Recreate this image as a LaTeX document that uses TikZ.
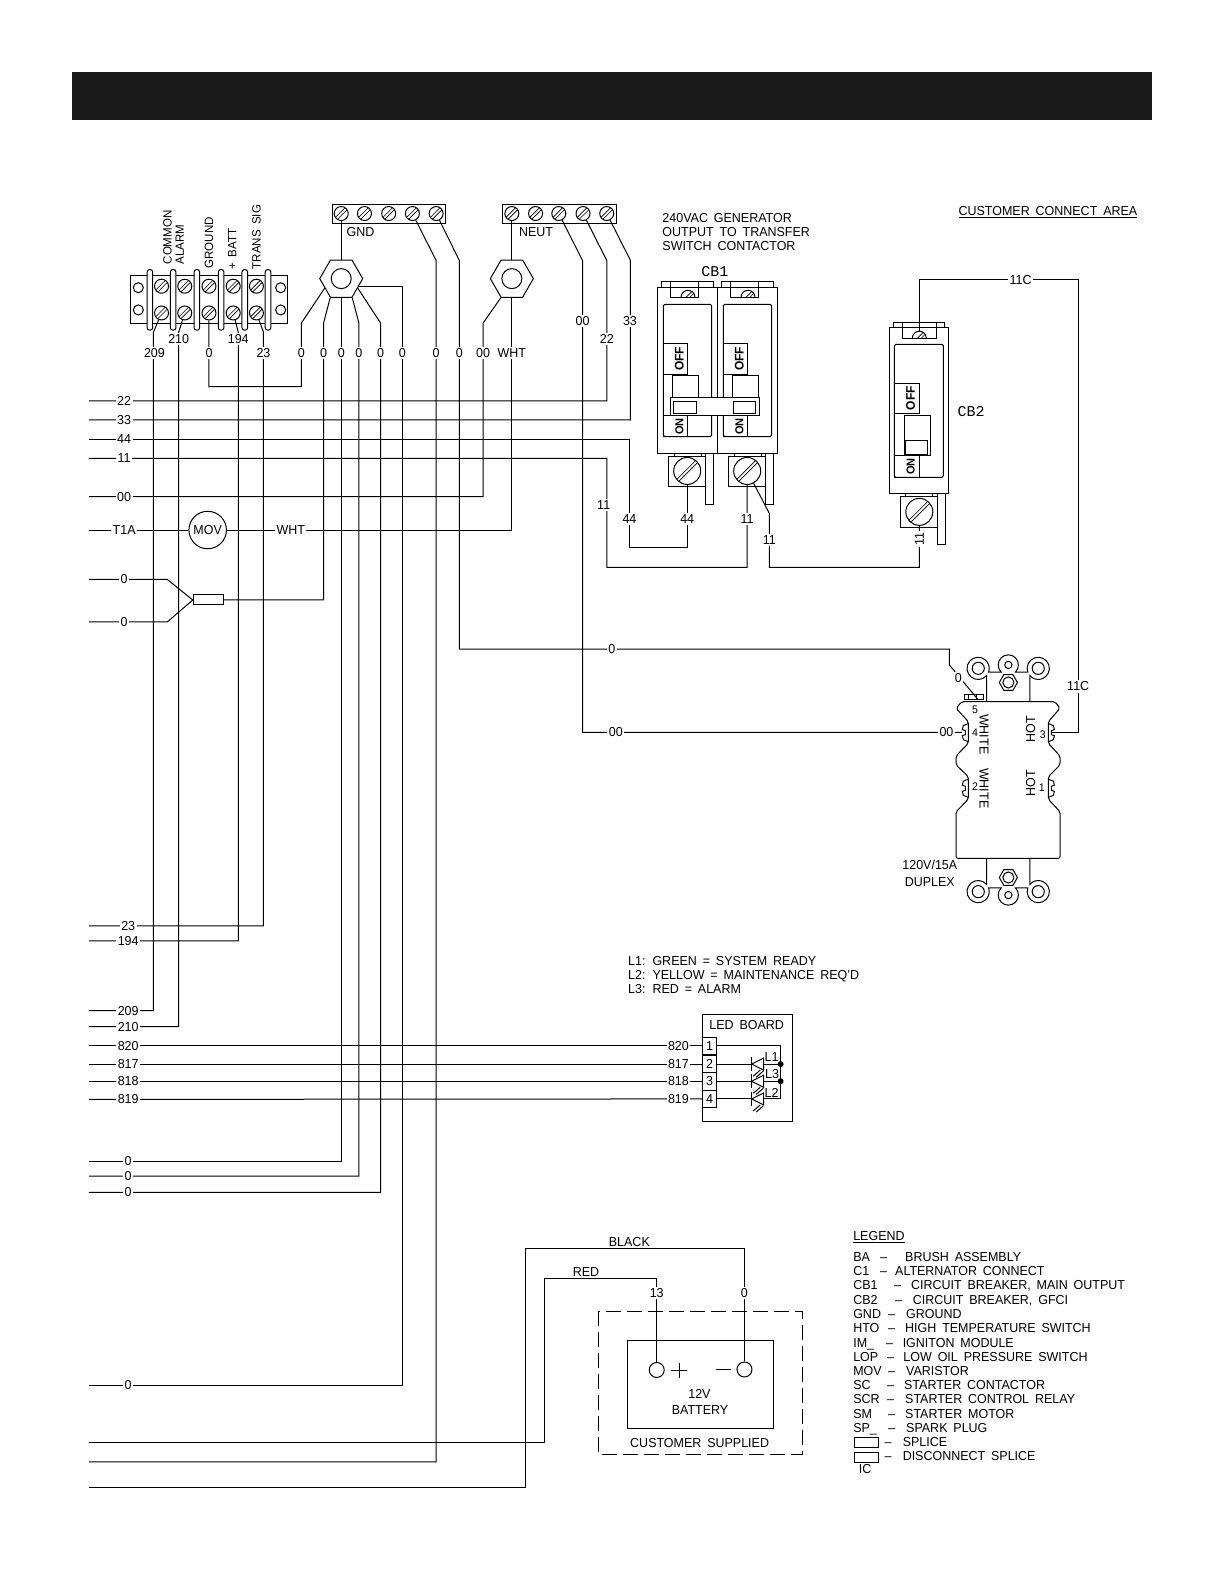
\documentclass[tikz,border=0pt]{standalone}
\usepackage{fontspec}
\setmainfont{Liberation Sans}[FakeStretch=0.96,WordSpace=1.7]
\newfontfamily\cbfont{Liberation Mono}
\usetikzlibrary{positioning,shapes.geometric}
\tikzset{
    wire/.style={line width=1pt},
    part/.style={line width=1pt},
    txt/.style={inner sep=0pt,font=\fontsize{13}{13}\selectfont},
    sidetxt/.style={txt,font=\fontsize{12}{12}\selectfont,rotate=90,anchor=west},
    lbl/.style={txt,fill=white,inner sep=1.5pt},
    keytxt/.style={txt,anchor=west,text height=9.4pt,text depth=0pt},
    slotscrew/.style={circle,draw,line width=1pt,fill=white,inner sep=0pt,minimum size=#1,
        path picture={\draw[line width=.8pt,double,double distance=1.8pt]
            (path picture bounding box.south west) -- (path picture bounding box.north east);}},
    plainhole/.style={circle,draw,line width=1pt,fill=white,inner sep=0pt,minimum size=#1},
    hexnut/.style={regular polygon,regular polygon sides=6,draw,line width=1pt,fill=white,inner sep=0pt,minimum size=#1},
    pinbox/.style={draw,line width=1pt,fill=white,inner sep=0pt,minimum width=14.4pt,minimum height=17.6pt,txt},
    offon/.style={inner sep=0pt,rotate=90,font=\bfseries\fontsize{#1}{#1}\selectfont}
}
\begin{document}
\begin{tikzpicture}[x=1.0096pt,y=-1.0096pt]
\useasboundingbox (0,0) rectangle (1212.4,1569);

\fill[black!90] (71,71) rectangle (1141,119);

% free ends at the left
\foreach \n/\y in {a22/397,a33/416,a44/435,a11/454,a00/492,at1/525,asa/574,asb/616,
    a23/917,a194/932,a209/1001,a210/1017,a820/1036,a817/1054,a818/1071,a819/1089,
    agb/1150,agc/1165,agd/1181,agf/1372,ared/1429,agg/1448,ablk/1473}
    \coordinate (\n) at (88,\y);

% terminal block
\draw[part] (129,272.5) rectangle (285,320.5);
\foreach \i/\sx in {1/137,2/278} {
    \node[plainhole=10pt] (tbhole\i) at (\sx,285) {};
    \node[plainhole=10pt] (tbholf\i) at (\sx,307) {};
}
\foreach \i/\sx in {1/160,2/183,3/207,4/231,5/254} {
    \node[slotscrew=14pt] (tbup\i) at (\sx,283.5) {};
    \node[slotscrew=14pt] (tblo\i) at (\sx,310) {};
}
\foreach \sx in {148.5,171.5,195,219,242.5,265.5}
    \draw[part,fill=white,rounded corners=2.5pt] (\sx-2.8,267) rectangle (\sx+2.8,327);
\node[sidetxt] (tcommon) at (166,262) {COMMON};
\node[sidetxt] (talarm) at (178,262) {ALARM};
\node[sidetxt] (tground) at (207,266) {GROUND};
\node[sidetxt] (tbatt) at (230,267) {+ BATT};
\node[sidetxt] (ttrans) at (254,267) {TRANS SIG};

% GND and NEUT strips
\draw[part] (329,202.5) rectangle (441,221);
\draw[part] (498,202.5) rectangle (611,221);
\foreach \i/\sx in {1/338,2/361,3/385,4/408.5,5/432}
    \node[slotscrew=14pt] (gscrew\i) at (\sx,211.5) {};
\foreach \i/\sx in {1/507,2/530.5,3/553.5,4/577.5,5/601}
    \node[slotscrew=14pt] (nscrew\i) at (\sx,211.5) {};
\node[txt] (tgnd) at (357,229.5) {GND};
\node[txt] (tneut) at (531,229.5) {NEUT};

% ground and neutral studs
\node[hexnut=43pt] (hexa) at (338,276) {};
\node[plainhole=20pt] (hexahole) at (338,276) {};
\node[hexnut=43pt] (hexb) at (507,276) {};
\node[plainhole=20pt] (hexbhole) at (507,276) {};

% MOV and splice
\node[plainhole=37.5pt,txt] (mov) at (205.7,525) {MOV};
\node[draw,line width=1pt,inner sep=0pt,minimum width=30.5pt,minimum height=10pt] (splice) at (206.5,594.3) {};

% wires from the terminal block
\draw[wire] (tblo1) -- (152,329) -- (152,1001) -- (a209);
\draw[wire] (tblo2) -- (177,329) -- (177,1017) -- (a210);
\draw[wire] (tblo4) -- (236,329) -- (236,932) -- (a194);
\draw[wire] (tblo5) -- (261,329) -- (261,917) -- (a23);
\draw[wire] (tblo3) -- (207,383) -- (298.5,383) -- (298.5,320) -- (hexa.210);

% wires from the studs
\draw[wire] (gscrew1) -- (hexa);
\draw[wire] (hexa.240) -- (320.5,320) -- (320.5,594.3) -- (splice);
\draw[wire] (hexa.south) -- (338,1150) -- (agb);
\draw[wire] (hexa.-60) -- (355.5,320) -- (355.5,1165) -- (agc);
\draw[wire] (hexa.-30) -- (377,320) -- (377,1181) -- (agd);
\draw[wire] (hexa.-25) -| (398.5,1372) -- (agf);
\draw[wire] (gscrew4) -- (432,258) -- (432,1448) -- (agg);
\draw[wire] (gscrew5) -- (455,258) -- (455,643) -- (940.4,643) -- (940.4,658.7) -- (969,693.3);
\draw[wire] (nscrew1) -- (hexb);
\draw[wire] (hexb.-120) -- (478.5,320) -- (478.5,492) -- (a00);
\draw[wire] (hexb.south) -- (507,525) -- (mov);
\draw[wire] (mov) -- (at1);
\draw[wire] (nscrew3) -- (577,258) -- (577,725.5) -- (953,725.5);
\draw[wire] (nscrew4) -- (601,258) -- (601,397) -- (a22);
\draw[wire] (nscrew5) -- (624.5,258) -- (624.5,416) -- (a33);
\draw[wire] (splice.west) -- (165.8,574) -- (asa);
\draw[wire] (splice.west) -- (165.8,616) -- (asb);

% CB1, two poles
\foreach \n/\bx in {a/0,b/59.4} {
  \begin{scope}[shift={(\bx,0)}]
    \draw[part] (655.4,284.6) -- (655.4,279) -- (706.5,279) -- (706.5,284.6);
    \draw[part] (651,284.6) rectangle (710.5,449);
    \node[slotscrew=14pt] (cbtop\n) at (681.5,294.5) {};
    \fill[white] (672,295.2) rectangle (692,303);
    \draw[part] (664.3,279) -- (664.3,294.5) -- (691.6,294.5) -- (691.6,279);
    \draw[part,rounded corners=1.5pt] (657,301.4) rectangle (705,432.5);
    \draw[part] (657,340) rectangle (680.8,370.5);
    \node[offon=12.5] (cboff\n) at (673,355.5) {OFF};
    \draw[part] (666,372.4) rectangle (692,393.6);
    \draw[part] (657,412) rectangle (680.8,432.5);
    \node[offon=11.5] (cbon\n) at (673,422.5) {ON};
    \draw[part] (699.3,449) rectangle (707.2,499.5);
    \draw[part] (662,451.7) rectangle (699.3,482);
    \draw[part] (668,449) -- (668,451.7) (695,449) -- (695,451.7);
    \node[slotscrew=27pt] (cbbot\n) at (680.7,466.5) {};
  \end{scope}
}
\draw[part,fill=white] (664.3,393.6) rectangle (752.4,411.4);
\draw[part] (667.3,397.5) rectangle (690,409.4);
\draw[part] (726.3,397.5) rectangle (748.8,409.4);
\node[txt,anchor=west,align=left,font=\fontsize{13}{14}\selectfont] (tcbout) at (656,230) {240VAC GENERATOR\\OUTPUT TO TRANSFER\\SWITCH CONTACTOR};
\node[txt,font=\cbfont\fontsize{15}{15}\selectfont] (tcb1) at (708,269) {CB1};

% CB2
\draw[part] (884.8,324.2) -- (884.8,319.2) -- (936,319.2) -- (936,324.2);
\draw[part] (880.9,324.2) rectangle (939.3,488.6);
\node[slotscrew=14pt] (cb2top) at (910.6,335) {};
\fill[white] (901,335.7) rectangle (921,343);
\draw[part] (894,319.2) -- (894,335) -- (927.8,335) -- (927.8,319.2);
\draw[part,rounded corners=1.5pt] (885.8,341) rectangle (934.4,472.8);
\draw[part] (886.4,379.7) rectangle (910.6,409.4);
\node[offon=12.5] (cb2off) at (902,394.5) {OFF};
\draw[part] (895.8,412) rectangle (921.8,451);
\draw[part] (896.7,436.8) rectangle (918.8,449.7);
\draw[part] (885.8,451) rectangle (910.6,472.8);
\draw[part] (885.8,409.4) -- (895.8,409.4);
\node[offon=11.5] (cb2on) at (902,462) {ON};
\draw[part] (928.4,488.6) rectangle (936.3,539);
\draw[part] (891.8,492) rectangle (928.4,522.3);
\draw[part] (897,488.6) -- (897,492) (924,488.6) -- (924,492);
\node[slotscrew=27pt] (cb2bot) at (910.6,507) {};
\node[txt,font=\cbfont\fontsize{15}{15}\selectfont] (tcb2) at (962,408) {CB2};
\node[txt] (tcustarea) at (1038,210) {\underline{CUSTOMER CONNECT AREA}};

% breaker wires
\draw[wire] (a44) -- (623.5,435) -- (623.5,542) -- (680.7,542) -- (cbbota);
\draw[wire] (a11) -- (601,454) -- (601,562) -- (740.1,562) -- (cbbotb);
\draw[wire] (cbbotb) -- (762,508.4) -- (762,562) -- (910.6,562) -- (cb2bot);

% duplex outlet
\foreach \ey/\sgn in {0/1,1545.2/-1} {
  \begin{scope}[shift={(0,\ey)},yscale=\sgn]
    \draw[part] (977.3,695) -- (977.3,669.1) arc[start angle=40,end angle=380,radius=11]
        -- (991.7,665.7) arc[start angle=135,end angle=405,radius=10]
        -- (1018.1,665.8) arc[start angle=160,end angle=500,radius=11] -- (1020,695);
    \draw[part] (969,662) circle (6);
    \draw[part] (1028.4,662) circle (6);
    \draw[part] (998.8,658.6) circle (3.6);
    \draw[part] (989.8,676) -- (994.3,668.2) -- (1003.3,668.2) -- (1007.8,676) -- (1003.3,683.8) -- (994.3,683.8) -- cycle;
    \draw[part] (998.8,676) circle (5.5);
  \end{scope}
}
\draw[part,fill=white,rounded corners=2pt] (952.6,695) -- (1045,695) -- (1050,701.6) -- (1038.4,714.8) -- (1038.4,736.3)
    -- (1050,748.8) -- (1050,757.7) -- (1038.4,769.3) -- (1038.4,791.7) -- (1050,804) -- (1050,850.2)
    -- (947,850.2) -- (947,804) -- (959.2,791.7) -- (959.2,769.3) -- (947,757.7) -- (947,748.8)
    -- (959.2,736.3) -- (959.2,714.8) -- (947,701.6) -- cycle;
\foreach \py in {725.7,780.8} {
    \draw[part] (959.2,\py-9) -- (954.2,\py-7) -- (953.2,\py-3) -- (956.2,\py-2) -- (956.2,\py+2) -- (953.2,\py+3) -- (954.2,\py+7) -- (959.2,\py+9);
    \draw[part] (1038.4,\py-9) -- (1043.4,\py-7) -- (1044.4,\py-3) -- (1041.4,\py-2) -- (1041.4,\py+2) -- (1044.4,\py+3) -- (1043.4,\py+7) -- (1038.4,\py+9);
}
\draw[part] (955.2,687.7) rectangle (974,693.3);
\draw[part] (959.5,687.7) -- (959.5,693.3) (967,687.7) -- (967,693.3);
\draw[wire] (cb2top) -- (910.6,277) -- (1068.7,277) -- (1068.7,725.5) -- (1040.7,725.5);
\node[txt,font=\fontsize{11}{11}\selectfont] (tno5) at (965.8,703.2) {5};
\node[txt,font=\fontsize{11}{11}\selectfont] (tno4) at (965.8,726.2) {4};
\node[txt,font=\fontsize{11}{11}\selectfont] (tno2) at (965.8,779) {2};
\node[txt,font=\fontsize{11}{11}\selectfont] (tno3) at (1033,727.5) {3};
\node[txt,font=\fontsize{11}{11}\selectfont] (tno1) at (1032,780) {1};
\node[txt,rotate=-90] (twhitea) at (974.7,727.3) {WHITE};
\node[txt,rotate=-90] (twhiteb) at (974.7,780.8) {WHITE};
\node[txt,rotate=90] (thota) at (1021,722.4) {HOT};
\node[txt,rotate=90] (thotb) at (1021,775.9) {HOT};
\node[txt,align=center,font=\fontsize{13}{17}\selectfont] (tduplex) at (921,865.5) {120V/15A\\DUPLEX};

% LED board
\draw[part] (695.6,1004.4) rectangle (785,1110.5);
\node[txt] (tled) at (739.6,1015) {LED BOARD};
\foreach \i/\y in {1/1036,2/1054,3/1071,4/1088.5}
    \node[pinbox] (ledpin\i) at (702.8,\y) {\i};
\node[txt,anchor=west,align=left,font=\fontsize{13}{14}\selectfont] (tledkey) at (622,966) {L1: GREEN = SYSTEM READY\\L2: YELLOW = MAINTENANCE REQ'D\\L3: RED = ALARM};
\draw[wire] (ledpin1) -- (773.2,1036) -- (773.2,1088.5) -- (ledpin4);
\draw[wire] (ledpin2) -- (773.2,1054);
\draw[wire] (ledpin3) -- (773.2,1071);
\foreach \n/\y in {a/1054,b/1071,c/1088.5} {
  \begin{scope}[shift={(0,\y)}]
    \draw[part] (744,-7) -- (744,7);
    \draw[part,fill=white] (744.5,0) -- (756.4,-6) -- (756.4,6) -- cycle;
    \draw[part] (746,12) -- (753,6) (749,13) -- (756,7);
  \end{scope}
}
\node[fill,circle,inner sep=0pt,minimum size=6pt] (ledjoina) at (773.2,1054) {};
\node[fill,circle,inner sep=0pt,minimum size=6pt] (ledjoinb) at (773.2,1071) {};
\node[txt,fill=white,inner sep=.5pt] (tla) at (764.2,1047.3) {L1};
\node[txt,fill=white,inner sep=.5pt] (tlb) at (764.7,1063.8) {L3};
\node[txt,fill=white,inner sep=.5pt] (tlc) at (764.2,1082.5) {L2};
\draw[wire] (a820) -- (ledpin1);
\draw[wire] (a817) -- (ledpin2);
\draw[wire] (a818) -- (ledpin3);
\draw[wire] (a819) -- (ledpin4);

% battery
\draw[part,dash pattern=on 15pt off 6pt] (593,1299) rectangle (795,1441);
\draw[part] (621.4,1328) rectangle (766,1414.8);
\node[plainhole=15pt] (batpos) at (650.5,1357) {};
\node[plainhole=15pt] (batneg) at (737.4,1356.5) {};
\draw[part] (672.6,1350) -- (672.6,1365) (665,1357.5) -- (680,1357.5);
\draw[part] (709,1357) -- (724,1357);
\node[txt] (tbat12) at (692.8,1381) {12V};
\node[txt] (tbat) at (693.4,1396.6) {BATTERY};
\node[txt] (tsupp) at (693,1429) {CUSTOMER SUPPLIED};
\draw[wire] (batneg) -- (737.4,1236.5) -- (520.4,1236.5) -- (520.4,1473) -- (ablk);
\draw[wire] (batpos) -- (650.5,1266) -- (539.2,1266) -- (539.2,1429) -- (ared);
\node[txt] (tblack) at (623.4,1230) {BLACK};
\node[txt] (tred) at (580.5,1260) {RED};

% wire labels
\foreach \n/\t/\lx/\ly in {la/209/153/350,lb/210/177/336,lc/0/207/350,ld/194/236/336,le/23/261/350,
    lf/0/298.5/350,lg/0/320.5/350,lh/0/338/350,li/0/355.5/350,lj/0/377/350,lk/0/398.5/350,
    ll/0/432/350,lm/0/455/350,ln/00/478.5/350,lo/WHT/507/350,
    lp/00/577/318,lq/22/601/336,lr/33/624/318,
    m22/22/123/397,m33/33/123/416,m44/44/123/435,m11/11/123/454,m00/00/123/492,mt1/T1A/123/525,
    mwh/WHT/288/525,msa/0/123/574,msb/0/123/616,
    ma/11/598/500,mb/44/623.5/514,mc/44/680.7/514,md/11/740/514,me/11/762/535,
    mf/0/606/643,mg/00/610/725.5,mh/0/949.3/672,mi/00/937.5/725.5,mj/11C/1011/277,mk/11C/1068/680,
    n23/23/127/917,n194/194/127/932,n209/209/127/1001,n210/210/127/1017,
    n820/820/127/1036,n817/817/127/1054,n818/818/127/1071,n819/819/127/1089,
    p820/820/672/1036,p817/817/672/1054,p818/818/672/1071,p819/819/672/1089,
    qb/0/127/1150,qc/0/127/1165,qd/0/127/1181,qf/0/127/1372,
    rb/13/650.5/1281,rc/0/737.4/1281}
    \node[lbl] (\n) at (\lx,\ly) {\t};
\node[lbl,rotate=90] (mk11) at (910.6,534) {11};

% legend
\node[txt,anchor=west] (tlegend) at (845,1225) {\underline{LEGEND}};
\foreach \n/\a/\y/\dx/\tx/\d in {
    a/BA/1244.7/875/896.4/BRUSH ASSEMBLY,
    b/C1/1258.9/875/886.5/ALTERNATOR CONNECT,
    c/CB1/1273.1/889/902.3/{CIRCUIT BREAKER, MAIN OUTPUT},
    d/CB2/1287/890/904/{CIRCUIT BREAKER, GFCI},
    e/GND/1301.2/883/897.4/GROUND,
    f/HTO/1315/883/896.4/HIGH TEMPERATURE SWITCH,
    g/IM\_/1329.6/881/894/IGNITON MODULE,
    h/LOP/1343.8/882/894.7/LOW OIL PRESSURE SWITCH,
    i/MOV/1358/883/897.4/VARISTOR,
    j/SC/1371.5/882/895.4/STARTER CONTACTOR,
    k/SCR/1385.7/882/896.4/STARTER CONTROL RELAY,
    l/SM/1399.9/883/896.4/STARTER MOTOR,
    m/SP\_/1413.8/883/897.4/SPARK PLUG} {
    \node[keytxt] (kabbr\n) at (845,\y) {\a};
    \node[keytxt] (kdash\n) at (\dx-3.5,\y) {--};
    \node[keytxt] (kdesc\n) at (\tx,\y) {\d};
}
\node[draw,line width=.7pt,inner sep=0pt,minimum width=24pt,minimum height=10pt] (ksplice) at (857.8,1428.6) {};
\node[keytxt] (ksplicedash) at (876,1428) {--};
\node[keytxt] (ksplicetxt) at (894,1428) {SPLICE};
\node[draw,line width=.7pt,inner sep=0pt,minimum width=24pt,minimum height=10pt] (kdisc) at (857.8,1443.5) {};
\node[keytxt] (kdiscdash) at (876,1442.2) {--};
\node[keytxt] (kdisctxt) at (894,1442.2) {DISCONNECT SPLICE};
\node[txt] (kic) at (857,1455.5) {IC};

\end{tikzpicture}
\end{document}
